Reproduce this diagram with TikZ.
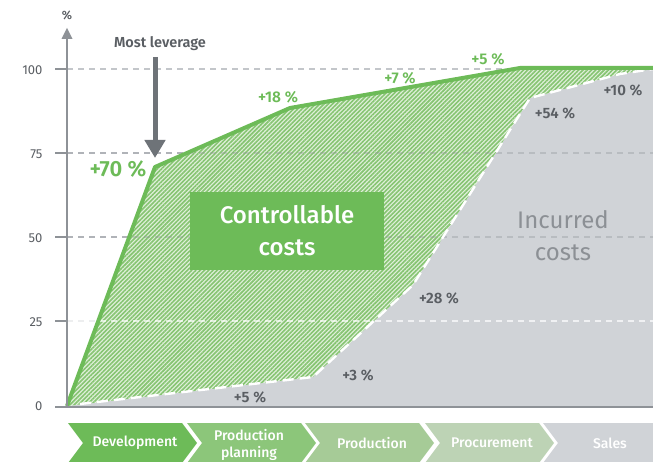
\documentclass[tikz,border=0pt]{standalone}
\usepackage{fontspec}
\setmainfont{Fira Sans}[BoldFont={Fira Sans SemiBold}]
\newfontfamily\medfont{Fira Sans Medium}
\usetikzlibrary{patterns.meta,arrows.meta}
\definecolor{gA}{HTML}{6DBB58}
\definecolor{gB}{HTML}{8CC67A}
\definecolor{gC}{HTML}{A6CB97}
\definecolor{gD}{HTML}{BDD3B5}
\definecolor{grayR}{HTML}{D0D3D7}
\definecolor{axisC}{HTML}{8E9297}
\definecolor{txtC}{HTML}{5A5E63}
\definecolor{arrC}{HTML}{6E7378}
\definecolor{incC}{HTML}{8C9095}
\definecolor{gridC}{HTML}{C3C6CA}
\definecolor{hatchBg}{HTML}{E0F0DA}
\definecolor{hatchC}{HTML}{86C472}
\tikzset{
  ticklab/.style={anchor=east,text=txtC,font=\fontsize{13}{15}\selectfont},
  greenlab/.style={text=gA,font=\bfseries\fontsize{15.5}{18}\selectfont},
  graylab/.style={text=txtC,font=\bfseries\fontsize{15}{18}\selectfont},
  chevlab/.style={text=white,align=center,font=\medfont\fontsize{14}{16.5}\selectfont},
  gridline/.style={gridC,line width=1.1pt,dash pattern=on 6pt off 5pt},
}
\newcommand{\chev}[2]{\fill[#2] (#1,423) -- ++(114,0) -- ++(15,20) -- ++(-15,20) -- ++(-114,0) -- ++(15,-20) -- cycle;}
\begin{document}
\begin{tikzpicture}[x=1pt,y=-1pt]
\useasboundingbox (0,0) rectangle (653,462);
% gridlines under
\foreach \yy in {69,153,237,321} \draw[gridline] (67,\yy) -- (653,\yy);
% incurred region
\fill[grayR] (67,406) -- (313,377) -- (413,285) -- (530,98) -- (620,74) -- (653,69) -- (653,406) -- cycle;
% controllable region (hatched)
\fill[hatchBg] (67,406) -- (155,167) -- (290,108) -- (520,68) -- (653,68) -- (653,69) -- (620,74) -- (530,98) -- (413,285) -- (313,377) -- cycle;
\fill[pattern={Lines[angle=45,distance=3pt,line width=1.6pt]},pattern color=hatchC] (67,406) -- (155,167) -- (290,108) -- (520,68) -- (653,68) -- (653,69) -- (620,74) -- (530,98) -- (413,285) -- (313,377) -- cycle;
% gridlines over regions
\draw[white,line width=1.1pt,dash pattern=on 6pt off 5pt,opacity=0.7] (67,321) -- (653,321);
\draw[axisC,line width=1.1pt,dash pattern=on 6pt off 5pt,opacity=0.35] (67,237) -- (653,237);
\draw[axisC,line width=1.1pt,dash pattern=on 6pt off 5pt,opacity=0.35] (67,153) -- (653,153);
% incurred boundary
\draw[white,line width=2.4pt,dash pattern=on 11pt off 6pt,line join=round] (80,404) -- (313,377) -- (413,285) -- (530,98) -- (620,74) -- (653,69);
% green line
\draw[gA,line width=4pt,line join=round] (67,406) -- (155,167) -- (290,108) -- (520,68) -- (653,68);
% axes
\draw[axisC,line width=2pt] (55,407) -- (653,407);
\draw[axisC,line width=2pt] (67,407) -- (67,38);
\fill[axisC] (67,28) -- (72.5,39) -- (61.5,39) -- cycle;
\foreach \yy in {69,153,237,321} \draw[axisC,line width=1.5pt] (55,\yy) -- (67,\yy);
\node[text=txtC,font=\bfseries\fontsize{12}{13}\selectfont] (pct) at (67,15) {\%};
\node[ticklab] (t100) at (46,70) {100};
\node[ticklab] (t75) at (46,154) {75};
\node[ticklab] (t50) at (46,238) {50};
\node[ticklab] (t25) at (46,322) {25};
\node[ticklab] (t0) at (46,406) {0};
% box
\node[fill=gA,minimum width=194pt,minimum height=78pt,text=white,align=center,font=\medfont\fontsize{24}{32}\selectfont] (ctrl) at (287,231) {Controllable\\costs};
\node[text=incC,align=center,font=\fontsize{24}{32}\selectfont] (inc) at (563,236) {Incurred\\costs};
% most leverage
\node[text=txtC,font=\bfseries\fontsize{14.5}{16}\selectfont] (lev) at (160,44) {Most leverage};
\coordinate (levtop) at (155,57);
\coordinate (levtip) at (155,158);
\draw[arrC,line width=5pt,-{Triangle[width=20pt,length=18pt]}] (levtop) -- (levtip);
% green labels
\node[text=gA,font=\bfseries\fontsize{22}{24}\selectfont] (l70) at (118,169) {+70 \%};
\node[greenlab] (l18) at (278,97) {+18 \%};
\node[greenlab] (l7) at (400,78) {+7 \%};
\node[greenlab] (l5t) at (488,59) {+5 \%};
% gray labels
\node[graylab] (l54) at (555,113) {+54 \%};
\node[graylab] (l10) at (623,90) {+10 \%};
\node[graylab] (l28) at (439,298) {+28 \%};
\node[graylab] (l3) at (358,375) {+3 \%};
\node[graylab] (l5b) at (250,397) {+5 \%};
% chevrons
\chev{68}{gA}
\chev{187}{gB}
\chev{305}{gC}
\chev{425}{gD}
\fill[grayR] (543,423) -- (653,423) -- (653,463) -- (543,463) -- (558,443) -- cycle;
\node[chevlab] (c1) at (135,443) {Development};
\node[chevlab,inner sep=0pt] (c2) at (249,445) {Production\\planning};
\node[chevlab] (c3) at (372,443) {Production};
\node[chevlab] (c4) at (492,443) {Procurement};
\node[chevlab] (c5) at (610,443) {Sales};
\end{tikzpicture}
\end{document}
